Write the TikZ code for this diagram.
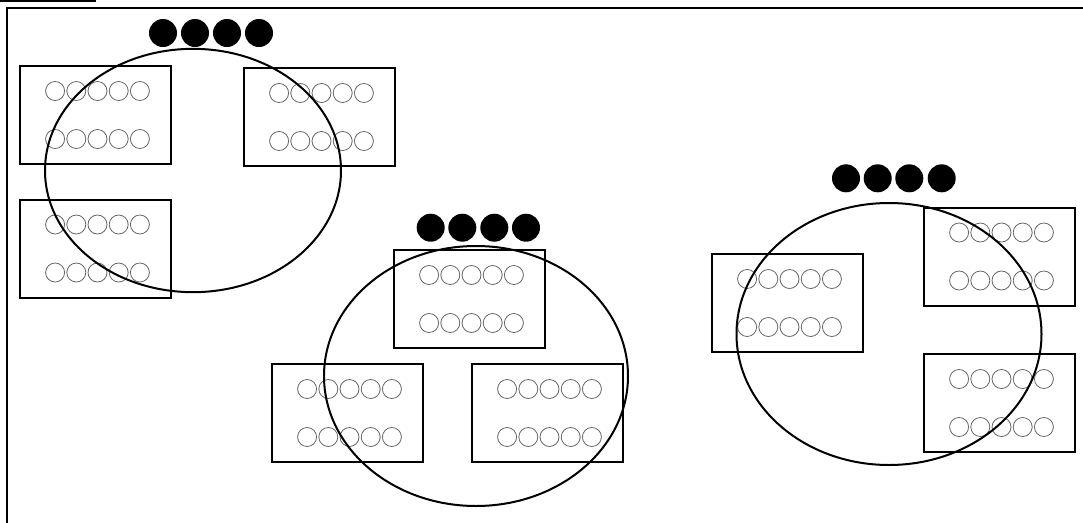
\documentclass[tikz,border=0pt]{standalone}
\usepackage{tikz}
\usetikzlibrary{calc}
\usetikzlibrary{positioning}
\usetikzlibrary{shapes.geometric}
\definecolor{seatgray}{rgb}{0.4,0.4,0.4}

\begin{document}
\begin{tikzpicture}[%
  x=0.75pt, y=-0.75pt,
  table/.style={draw, line width=1.5pt, rectangle, minimum width=113.25pt,
    minimum height=73.5pt, inner sep=0pt},
  seat/.style={draw=seatgray, line width=0.6pt, circle, minimum size=14.25pt,
    inner sep=0pt},
  guest/.style={fill=black, circle, minimum size=21pt, inner sep=0pt},
  zone/.style={draw, line width=1.5pt, ellipse, inner sep=0pt},
]

  \useasboundingbox (0,0) rectangle (1083,522);
  \clip (0,0) rectangle (1083,522);

  % frame and corner tab
  \draw[line width=1.2pt] (-10,-10) rectangle (95,1);
  \draw[line width=1.5pt] (7,540) -- (7,8) -- (1100,8);

  % tables
  \node[table] (a1) at (95.5,115) {};
  \node[table] (a2) at (319.5,117) {};
  \node[table] (a3) at (95.5,248.5) {};
  \node[table] (b1) at (469.5,299) {};
  \node[table] (b2) at (347.5,413) {};
  \node[table] (b3) at (547.5,413) {};
  \node[table] (c1) at (787.5,303) {};
  \node[table] (c2) at (999.5,256.5) {};
  \node[table] (c3) at (999.5,403) {};

  % seats, two rows of five
  \foreach \t in {a1,a2,a3,b1,b2,b3,c1,c2,c3}
    \foreach \i in {0,...,4} {
      \node[seat] (\t-u\i) at ($(\t.center)+(2+21.2*\i-42.4,-24)$) {};
      \node[seat] (\t-d\i) at ($(\t.center)+(2+21.2*\i-42.4,24)$) {};
    }

  % zones
  \node[zone, minimum width=222pt, minimum height=182.5pt] (g1) at (193,170.5) {};
  \node[zone, minimum width=228pt, minimum height=195pt] (g2) at (476,376) {};
  \node[zone, minimum width=228.75pt, minimum height=196.5pt] (g3) at (889,334) {};

  % guests
  \foreach \x [count=\k] in {163,195,227,259}
    \node[guest] (p1-\k) at (\x,33) {};
  \foreach \x [count=\k] in {430.7,462.3,494.3,526}
    \node[guest] (p2-\k) at (\x,227.7) {};
  \foreach \x [count=\k] in {846,877.7,909.3,941.7}
    \node[guest] (p3-\k) at (\x,178.3) {};

\end{tikzpicture}
\end{document}
